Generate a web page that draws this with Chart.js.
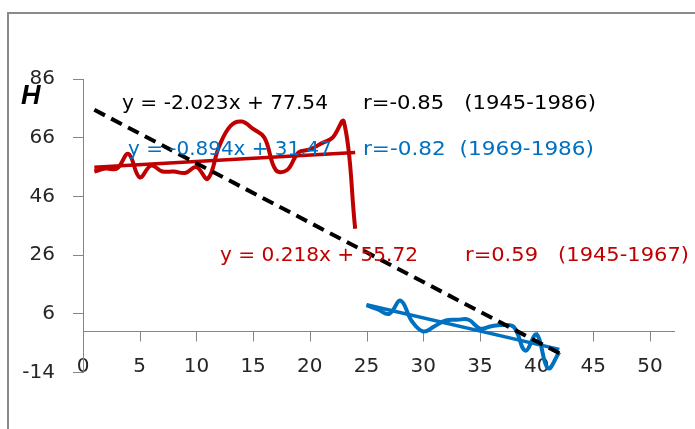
<!DOCTYPE html>
<html><head><meta charset="utf-8">
<script src="https://cdn.jsdelivr.net/npm/chart.js@4.4.1/dist/chart.umd.min.js"></script>
<style>
html,body{margin:0;padding:0;background:#fff;overflow:hidden;}
#wrap{position:relative;width:695px;height:429px;overflow:hidden;}
#frame{position:absolute;left:7px;top:12px;width:760px;height:500px;border:2px solid #8a8a8a;}
#c{position:absolute;left:0;top:0;}
</style></head><body>
<div id="wrap"><div id="frame"></div><canvas id="c" width="695" height="429"></canvas></div>
<script>
// ---- data ----
const redX  = [1,2,3,4,5,6,7,8,9,10,11,12,13,14,15,16,17,18,19,20,21,22,23,24];
const redY  = [54.5,55.5,55.5,60.5,52.5,56.5,54.5,54.5,54,56,52,63,70,71.5,69,66,55,55,61,62,64,66,71.5,35];
const blueX = [25,26,27,28,29,30,31,32,33,34,35,36,37,38,39,40,41,42];
const blueY = [9,7.5,6,10.5,3.5,0,1.8,3.8,4,4,1,1.8,2.2,1.5,-6.5,-1,-12.5,-7];
const trendAllX  = [1, 42];
const trendAllY  = [75.5, -7.4];
const trendRedX  = [1, 24];
const trendRedY  = [55.94, 60.95];
const trendBlueX = [25, 42];
const trendBlueY = [9.12, -6.08];
const xTicks = [0,5,10,15,20,25,30,35,40,45,50];
const yTicks = [-14,6,26,46,66,86];
const axisLabel = 'H';
const noteTexts = [
  'y = -2.023x + 77.54', 'r=-0.85   (1945-1986)',
  'y = -0.894x + 31.47', 'r=-0.82  (1969-1986)',
  'y = 0.218x + 55.72',  'r=0.59   (1945-1967)'
];

const pts = (xs, ys) => xs.map((x, i) => ({x: x, y: ys[i]}));

// ---- layout / style ----
const RED = '#C00000', BLUE = '#0070C0', AXIS = '#868686', TXT = '#262626';
const notePlace = [
  {c:'#000', x:122, y:104, w:206},
  {c:'#000', x:363, y:104, w:233},
  {c:BLUE,   x:128, y:150, w:204},
  {c:BLUE,   x:363, y:150, w:231},
  {c:RED,    x:220, y:256, w:198},
  {c:RED,    x:465, y:256, w:224}
];

// horizontal axis line crossing at y = 0, with tick marks hanging below
const zeroAxisPlugin = {
  id: 'zeroAxis',
  beforeDatasetsDraw(chart) {
    const ctx = chart.ctx, xs = chart.scales.x, ys = chart.scales.y, a = chart.chartArea;
    const y0 = Math.round(ys.getPixelForValue(0)) + 0.5;
    ctx.save();
    ctx.strokeStyle = AXIS;
    ctx.lineWidth = 1;
    ctx.beginPath();
    ctx.moveTo(a.left, y0);
    ctx.lineTo(a.right, y0);
    xTicks.forEach(v => {
      const px = Math.round(xs.getPixelForValue(v)) + 0.5;
      ctx.moveTo(px, y0);
      ctx.lineTo(px, y0 + 10);
    });
    ctx.stroke();
    ctx.restore();
  }
};

const textPlugin = {
  id: 'notes',
  afterDraw(chart) {
    const ctx = chart.ctx;
    ctx.save();
    ctx.textBaseline = 'middle';
    ctx.textAlign = 'left';
    ctx.font = '19px "DejaVu Sans"';
    noteTexts.forEach((t, i) => {
      const p = notePlace[i];
      const nat = ctx.measureText(t).width;
      ctx.save();
      ctx.translate(p.x, p.y);
      ctx.scale(p.w / nat, 1);
      ctx.fillStyle = p.c;
      ctx.fillText(t, 0, 0);
      ctx.restore();
    });
    ctx.font = 'italic bold 27px "Liberation Sans"';
    ctx.fillStyle = '#000';
    ctx.textBaseline = 'alphabetic';
    ctx.fillText(axisLabel, 21, 104);
    ctx.restore();
  }
};

const setTicks = arr => scale => { scale.ticks = arr.map(v => ({value: v})); };
const XMAX = 52.2;

new Chart(document.getElementById('c'), {
  type: 'scatter',
  data: {
    datasets: [
      {data: pts(trendAllX, trendAllY), showLine: true, borderColor: '#000', borderWidth: 4,
       borderDash: [12, 7], pointRadius: 0, tension: 0, order: 0},
      {data: pts(trendRedX, trendRedY), showLine: true, borderColor: RED, borderWidth: 3.5,
       pointRadius: 0, tension: 0, order: 1},
      {data: pts(trendBlueX, trendBlueY), showLine: true, borderColor: BLUE, borderWidth: 3.5,
       pointRadius: 0, tension: 0, order: 1},
      {data: pts(redX, redY), showLine: true, borderColor: RED, borderWidth: 4,
       pointRadius: 0, tension: 0.4, order: 2},
      {data: pts(blueX, blueY), showLine: true, borderColor: BLUE, borderWidth: 4,
       pointRadius: 0, tension: 0.4, order: 2}
    ]
  },
  options: {
    responsive: false,
    devicePixelRatio: 1,
    animation: false,
    layout: {padding: {top: 79, right: 20, left: 0, bottom: 0}},
    plugins: {legend: {display: false}, tooltip: {enabled: false}},
    scales: {
      x: {
        type: 'linear', position: 'bottom', min: 0, max: XMAX,
        afterBuildTicks: setTicks(xTicks),
        afterFit: s => { s.height = 56.4; },
        border: {display: false},
        grid: {display: false},
        ticks: {color: TXT, mirror: true, padding: -6, maxRotation: 0, autoSkip: false,
                font: {family: 'DejaVu Sans', size: 20}}
      },
      y: {
        type: 'linear', position: 'left', min: -14, max: 86,
        afterBuildTicks: setTicks(yTicks),
        afterFit: s => { s.width = 83; },
        border: {display: true, color: AXIS, width: 1},
        grid: {display: true, drawOnChartArea: false, drawTicks: true, tickLength: 10, color: AXIS},
        ticks: {color: TXT, padding: 18, font: {family: 'DejaVu Sans', size: 20}}
      }
    }
  },
  plugins: [zeroAxisPlugin, textPlugin]
});
</script>
</body></html>
